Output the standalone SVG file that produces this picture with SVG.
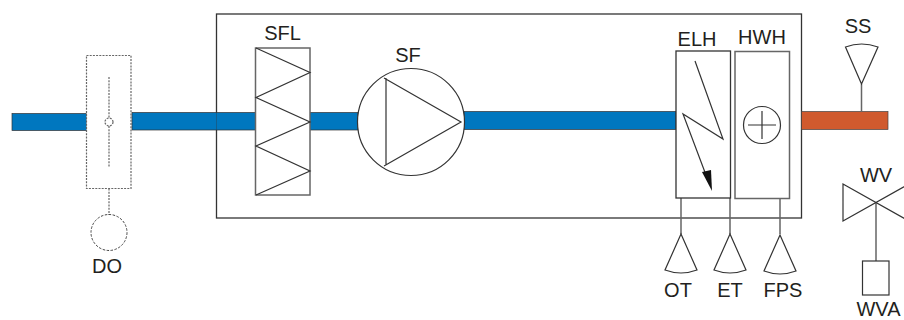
<svg xmlns="http://www.w3.org/2000/svg" width="904" height="320" viewBox="0 0 904 320">
<style>
text{font-family:"Liberation Sans",Arial,sans-serif;font-size:20px;fill:#231f20;text-anchor:middle}
.l{fill:none;stroke:#333;stroke-width:1.2}
.g{fill:#fff;stroke:#666;stroke-width:1.5}
.c{fill:none;stroke:#666;stroke-width:1.5}
.d{fill:none;stroke:#666;stroke-width:1.2;stroke-dasharray:2 1.2}
.b{fill:#0077bf;stroke:#333;stroke-width:.7}
</style>
<rect width="904" height="320" fill="#fff"/>
<g id="connectors">
<rect x="216.500" y="14" width="585" height="204" fill="#fff" stroke="#333" stroke-width="1.300"/>
<rect class="b" x="12" y="113.500" width="75" height="17"/>
<rect class="b" x="132" y="112.500" width="226" height="17.500"/>
<rect class="b" x="464" y="111.500" width="212" height="18"/>
<rect x="801.500" y="111.500" width="86.500" height="18" fill="#d05a2e" stroke="#444" stroke-width=".7"/>
<path d="M216.500 112.500V130" fill="none" stroke="#333" stroke-opacity=".35"/>
<path class="d" d="M109 188.500V215"/>
<path class="c" d="M681 198V234M730 198V234M780 198V234M861.500 84V112M876 203V261"/>
</g>
<g id="damper">
<rect class="d" x="86.500" y="55.500" width="44.500" height="133" style="fill:#fff"/>
<path class="d" d="M109 77V118M109 126V167"/>
<circle class="d" cx="109" cy="122" r="4"/>
</g>
<g id="DO">
<circle cx="109" cy="232.500" r="18" fill="none" stroke="#444" stroke-width="1" stroke-dasharray="2.500 1.500"/>
<text x="107" y="273">DO</text>
</g>
<g id="SFL">
<rect class="g" x="255.500" y="48" width="54.500" height="147"/>
<path class="l" d="M256 48L310 72.500L256 97.500L310 122L256 146L310 171L256 195"/>
<text x="282.500" y="40">SFL</text>
</g>
<g id="SF">
<circle class="l" cx="411" cy="122" r="53.500" style="fill:#fff"/>
<path class="l" d="M386 78V165M384 78L461 122L384 166"/>
<text x="408" y="61.500">SF</text>
</g>
<g id="ELH">
<rect x="676" y="51" width="54.500" height="147" fill="#fff" stroke="#333" stroke-width="1.300"/>
<path class="l" d="M695 61L723 139L683 114L709 183"/>
<path d="M712 191L702 172L711 170Z" fill="#111"/>
<text x="697" y="46">ELH</text>
</g>
<g id="HWH">
<rect class="g" x="735" y="51.500" width="54.500" height="147"/>
<circle class="l" cx="762" cy="125" r="18.500"/>
<path class="l" d="M748 125H776M762 111V139"/>
<text x="762" y="44">HWH</text>
</g>
<g id="SS">
<path class="l" d="M861.500 84L845.500 47Q861.500 41 878 47Z" style="fill:#fff"/>
<text x="858" y="33">SS</text>
</g>
<g id="OT">
<path class="l" d="M681 234L665 270Q681 276 697 270Z" style="fill:#fff"/>
<text x="678" y="297">OT</text>
</g>
<g id="ET">
<path class="l" d="M730 234L714 270Q730 276 746 270Z" style="fill:#fff"/>
<text x="730" y="297">ET</text>
</g>
<g id="FPS">
<path class="l" d="M780 235L764 271Q780 277 796 271Z" style="fill:#fff"/>
<text x="783" y="296.500">FPS</text>
</g>
<g id="WV">
<path class="l" d="M843 184V221L909 184V221Z"/>
<text x="876" y="181.500">WV</text>
</g>
<g id="WVA">
<rect class="l" x="862.500" y="261" width="26.500" height="34"/>
<text x="878.500" y="315.500">WVA</text>
</g>
</svg>
